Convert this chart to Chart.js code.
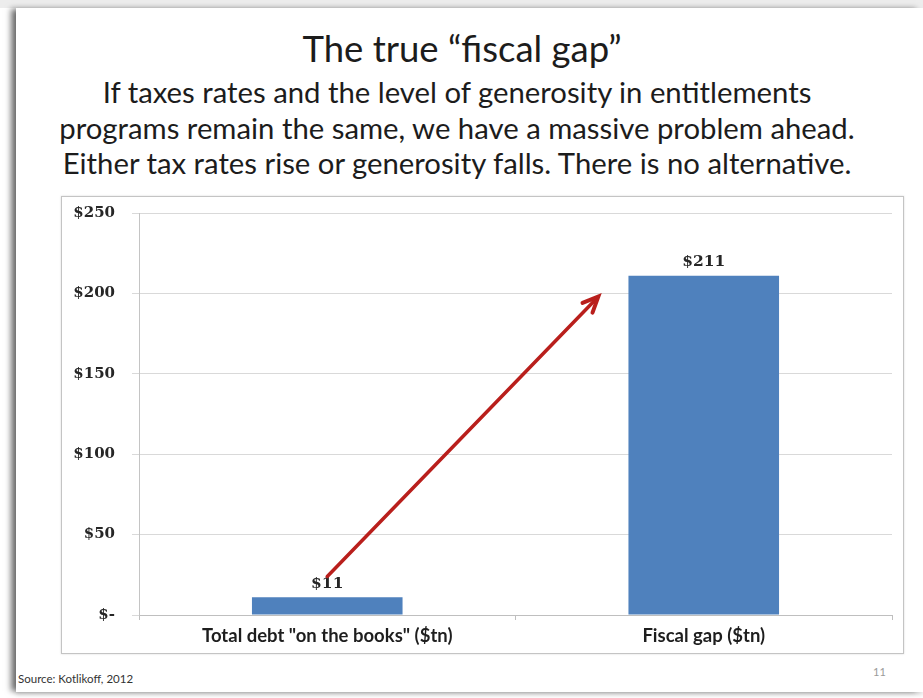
<!DOCTYPE html>
<html>
<head>
<meta charset="utf-8">
<script src="https://cdn.jsdelivr.net/npm/chart.js@4.4.1/dist/chart.umd.min.js"></script>
<style>
  html, body { margin: 0; padding: 0; background: #ffffff; }
  body { width: 923px; height: 698px; position: relative; overflow: hidden; }
  .topband { position: absolute; left: 0; top: 0; width: 923px; height: 8px; background: #ededed; }
  .slide {
    position: absolute; left: 16px; top: 8px; width: 907px; height: 684px;
    background: #ffffff;
    box-shadow: -6px 0 6px -1px rgba(0,0,0,0.55), 0 3px 4px rgba(0,0,0,0.12);
  }
  .line { position: absolute; left: 0; width: 914px; text-align: center;
          font-family: Lato, "Open Sans", sans-serif; color: #1c1c1c; white-space: nowrap; }
  .title { font-size: 36.5px; line-height: 43.8px; top: 27px; width: 924px; }
  .sub { font-size: 29.3px; line-height: 35.2px; }
  .box { position: absolute; left: 61px; top: 196px; width: 841px; height: 456px;
         border: 1px solid #c4c4c4; box-shadow: 0 0 2px rgba(0,0,0,0.15); background: #fff; }
  .box canvas { display: block; }
  .source { position: absolute; left: 18px; top: 672px; font-family: Lato, sans-serif;
            font-size: 11.5px; color: #333; }
  .pageno { position: absolute; left: 873px; top: 665px; font-family: Lato, sans-serif;
            font-size: 11px; color: #9a9a9a; }
</style>
</head>
<body>
<div class="topband"></div>
<div class="slide"></div>
<div class="line title">The true “fiscal gap”</div>
<div class="line sub" style="top:74px">If taxes rates and the level of generosity in entitlements</div>
<div class="line sub" style="top:110px">programs remain the same, we have a massive problem ahead.</div>
<div class="line sub" style="top:145px">Either tax rates rise or generosity falls. There is no alternative.</div>
<div class="box"><canvas id="c" width="841" height="456"></canvas></div>
<div class="source">Source: Kotlikoff, 2012</div>
<div class="pageno">11</div>

<script>
// Categories and values ($ trillions)
const categories = ['Total debt "on the books" ($tn)', 'Fiscal gap ($tn)'];
const values = [11, 211];
// Y-axis ticks
const yTicks = [0, 50, 100, 150, 200, 250];
// Arrow from the debt bar up toward the fiscal gap bar, in (category index, value) terms
const arrowFrom = [0, 24];
const arrowTo = [0.72, 198];

const fmtMoney = v => v === 0 ? '$-' : '$' + v;

// Value labels above each bar
const barLabels = {
  id: 'barLabels',
  afterDatasetsDraw(chart) {
    const ctx = chart.ctx;
    const meta = chart.getDatasetMeta(0);
    ctx.save();
    ctx.font = 'bold 15.5px "DejaVu Serif", serif';
    ctx.fillStyle = '#262626';
    ctx.textAlign = 'center';
    ctx.textBaseline = 'bottom';
    meta.data.forEach((bar, i) => {
      ctx.fillText(fmtMoney(values[i]), bar.x, bar.y - 6);
    });
    ctx.restore();
  }
};

// Red arrow drawn on top of the bars
const arrowPlugin = {
  id: 'arrow',
  afterDraw(chart) {
    const xs = chart.scales.x, ys = chart.scales.y;
    const px = v => {
      const i = Math.floor(v), f = v - i;
      const a = xs.getPixelForValue(i), b = xs.getPixelForValue(i + 1);
      return a + f * (b - a);
    };
    const x1 = px(arrowFrom[0]), y1 = ys.getPixelForValue(arrowFrom[1]);
    const x2 = px(arrowTo[0]), y2 = ys.getPixelForValue(arrowTo[1]);
    const ang = Math.atan2(y2 - y1, x2 - x1);
    const ctx = chart.ctx;
    ctx.save();
    ctx.strokeStyle = '#b91f1c';
    ctx.lineWidth = 3.5;
    ctx.lineCap = 'round';
    ctx.beginPath();
    ctx.moveTo(x1, y1);
    ctx.lineTo(x2 - 6 * Math.cos(ang), y2 - 6 * Math.sin(ang));
    ctx.stroke();
    const len = 17, spread = 0.42;
    ctx.lineJoin = 'miter';
    ctx.beginPath();
    ctx.moveTo(x2 - len * Math.cos(ang - spread), y2 - len * Math.sin(ang - spread));
    ctx.lineTo(x2, y2);
    ctx.lineTo(x2 - len * Math.cos(ang + spread), y2 - len * Math.sin(ang + spread));
    ctx.lineWidth = 4;
    ctx.stroke();
    ctx.restore();
  }
};

new Chart(document.getElementById('c'), {
  type: 'bar',
  data: {
    labels: categories,
    datasets: [{
      data: values,
      backgroundColor: '#4f81bd',
      borderWidth: 0,
      categoryPercentage: 0.5,
      barPercentage: 0.8
    }]
  },
  options: {
    responsive: false,
    animation: false,
    events: [],
    layout: { padding: { left: 0, right: 11, top: 16, bottom: 0 } },
    plugins: { legend: { display: false }, title: { display: false }, tooltip: { enabled: false } },
    scales: {
      x: {
        grid: { offset: true, drawOnChartArea: false, drawTicks: true, tickLength: 5, color: '#bfbfbf' },
        border: { color: '#bfbfbf' },
        ticks: {
          font: { family: 'Lato, "Liberation Sans", sans-serif', size: 18.5, weight: 'bold' },
          color: '#1e1e1e',
          padding: 5,
          maxRotation: 0
        },
        afterFit(scale) { scale.height = 38; }
      },
      y: {
        min: 0, max: 250,
        afterBuildTicks(scale) { scale.ticks = yTicks.map(v => ({ value: v })); },
        grid: { color: '#d9d9d9', tickLength: 7, lineWidth: 1 },
        border: { color: '#c4c4c4' },
        ticks: {
          callback: v => fmtMoney(v),
          font: { family: '"DejaVu Serif", serif', size: 15, weight: 'bold' },
          color: '#262626',
          padding: 17
        },
        afterFit(scale) {
          scale.width = 77;
          // only half a label of room is needed above/below the axis
          scale.paddingTop = 8;
          scale.paddingBottom = 8;
        }
      }
    }
  },
  plugins: [barLabels, arrowPlugin]
});
</script>
</body>
</html>
